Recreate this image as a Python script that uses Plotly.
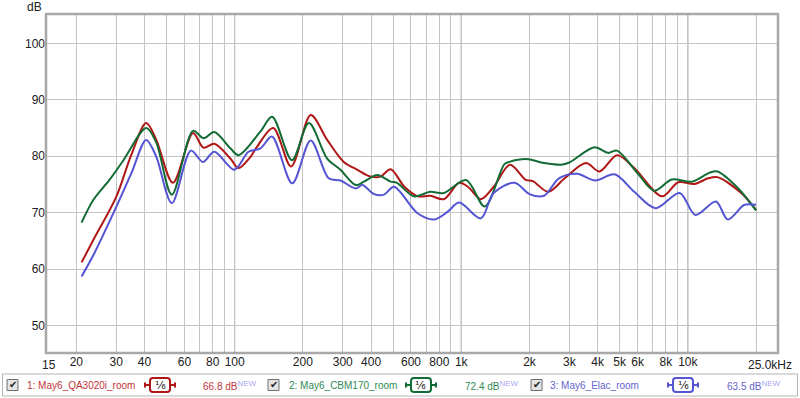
import plotly.graph_objects as go

# ---------------- data ----------------
red_f = [21.1, 23.8, 30, 35, 40.7, 45, 53.4, 65.5, 72.9, 81.3, 95.7, 104, 117, 125.6, 147.9, 177.5,
         216.5, 256, 303, 348, 398, 440, 488, 561, 644, 730, 838, 979, 1070, 1220, 1390, 1640, 1930,
         2070, 2420, 2860, 3550, 4080, 4870, 5800, 7700, 9070, 10700, 12300, 13500, 17200, 20000]
red_db = [61.2, 65.2, 72.8, 80.3, 85.9, 83.0, 75.3, 84.1, 81.5, 82.2, 79.6, 77.9, 79.8, 81.7, 85.0, 78.2,
          87.3, 82.9, 79.0, 77.6, 76.4, 76.4, 77.7, 74.6, 72.9, 73.0, 72.4, 75.3, 74.6, 72.4, 74.6, 78.5, 75.8,
          75.6, 73.7, 76.1, 78.8, 77.3, 80.2, 77.9, 72.9, 75.4, 75.1, 76.1, 76.3, 73.5, 70.5]

green_f = [21.1, 23.8, 28, 32.3, 40.7, 45, 52.8, 65.5, 72.9, 81.3, 95.7, 104, 130, 146.3, 179, 212.5,
           256, 293, 342, 372, 426, 488, 520, 618, 730, 838, 1050, 1270, 1550, 1630, 1930, 2320, 2760,
           3000, 3870, 4450, 4870, 6000, 7100, 8500, 10400, 12500, 13500, 16700, 20000]
green_db = [68.25, 72.3, 75.8, 79.3, 85.0, 82.5, 73.2, 84.5, 83.2, 84.3, 81.4, 80.2, 84.4, 87.0, 79.3, 85.9,
            79.6, 77.6, 74.9, 75.5, 76.7, 75.5, 75.3, 72.9, 73.7, 73.5, 75.8, 71.1, 78.6, 79.0, 79.5, 78.8, 78.5,
            78.9, 81.6, 80.6, 81.0, 77.0, 73.9, 75.9, 75.5, 77.1, 77.3, 74.3, 70.4]

blue_f = [21.1, 23.8, 29.6, 35, 40.7, 45, 52.8, 64.1, 72.4, 81.3, 99.7, 115, 130, 146, 179.5, 216.5,
          260, 293, 342, 366, 412, 456, 505, 641, 760, 872, 979, 1220, 1390, 1720, 2000, 2320, 2700,
          3250, 3900, 4750, 5800, 7200, 9200, 10800, 13300, 15000, 17800, 20000]
blue_db = [58.7, 62.5, 70.5, 77.0, 82.9, 80.0, 71.7, 81.0, 79.0, 80.8, 77.6, 80.8, 81.4, 83.5, 75.2, 82.8,
           76.1, 75.7, 74.3, 74.9, 73.3, 73.2, 74.6, 69.9, 68.8, 70.2, 71.8, 69.0, 73.5, 75.3, 73.3, 73.0, 76.1,
           76.9, 75.7, 76.8, 73.7, 70.8, 73.5, 69.6, 72.0, 68.8, 71.4, 71.4]

series_names = ["1: May6_QA3020i_room", "2: May6_CBM170_room", "3: May6_Elac_room"]
series_levels = ["66.8 dB", "72.4 dB", "63.5 dB"]

x_grid = [20, 30, 40, 50, 60, 70, 80, 90, 100, 200, 300, 400, 500, 600, 700, 800, 900,
          1000, 2000, 3000, 4000, 5000, 6000, 7000, 8000, 9000, 10000, 20000]
x_labels = {20: "20", 30: "30", 40: "40", 60: "60", 80: "80", 100: "100", 200: "200", 300: "300",
            400: "400", 600: "600", 800: "800", 1000: "1k", 2000: "2k", 3000: "3k", 4000: "4k",
            5000: "5k", 6000: "6k", 8000: "8k", 10000: "10k"}
y_ticks = [50, 60, 70, 80, 90, 100]
major_x = [100, 1000, 10000]

line_colors = ["#b01616", "#136b36", "#5454d4"]
text_colors = ["#c2343c", "#2f8a56", "#6464cc"]

# ---------------- layout geometry ----------------
W, H = 800, 398
L, R, T, B = 46, 778, 14, 353


def px(x):
    return (x - L) / (R - L)


def py(y):
    return (B - y) / (B - T)


fig = go.Figure()
for f, v, c, n in zip([red_f, green_f, blue_f], [red_db, green_db, blue_db], line_colors, series_names):
    fig.add_trace(go.Scatter(x=f, y=v, mode="lines", name=n,
                             line=dict(color=c, width=2, shape="spline", smoothing=0.9),
                             showlegend=False, hoverinfo="skip"))

shapes = []
for g in major_x:
    shapes.append(dict(type="line", xref="x", yref="paper", x0=g, x1=g, y0=0, y1=1,
                       line=dict(color="#8a8a8a", width=1), layer="below"))
# plot frame
shapes.append(dict(type="rect", xref="paper", yref="paper", x0=0, x1=1, y0=0, y1=1,
                   line=dict(color="#a8a8a8", width=2.5)))
# legend box
shapes.append(dict(type="rect", xref="paper", yref="paper", x0=px(2.5), x1=px(797.5),
                   y0=py(396), y1=py(374), line=dict(color="#b4b4b4", width=1)))

annotations = []
font = "Liberation Sans, Arial, sans-serif"
annotations.append(dict(x=px(34.5), y=py(6.5), xref="paper", yref="paper", text="dB", showarrow=False,
                        font=dict(family=font, size=12, color="#202020"), xanchor="center", yanchor="middle"))
annotations.append(dict(x=px(48.5), y=py(365), xref="paper", yref="paper", text="15", showarrow=False,
                        font=dict(family=font, size=12, color="#202020"), xanchor="center", yanchor="middle"))
annotations.append(dict(x=px(793.5), y=py(365), xref="paper", yref="paper", text="25.0kHz", showarrow=False,
                        font=dict(family=font, size=12, color="#202020"), xanchor="right", yanchor="middle"))

check_x = [7, 268, 531]
name_x = [25, 287, 548]
badge_x = [145, 406, 668]
level_x = [201, 463, 725]
cy = 385
for i in range(3):
    cx = check_x[i]
    shapes.append(dict(type="rect", xref="paper", yref="paper", x0=px(cx), x1=px(cx + 11),
                       y0=py(cy + 5.5), y1=py(cy - 5.5), fillcolor="#e4e4e4",
                       line=dict(color="#707070", width=1)))
    annotations.append(dict(x=px(cx + 5.5), y=py(cy - 0.5), xref="paper", yref="paper", text="✔",
                            showarrow=False, font=dict(family="DejaVu Sans", size=10, color="#202020"),
                            xanchor="center", yanchor="middle"))
    annotations.append(dict(x=px(name_x[i]), y=py(cy), xref="paper", yref="paper", text=series_names[i],
                            showarrow=False, font=dict(family=font, size=10, color=text_colors[i]),
                            xanchor="left", yanchor="middle"))
    bx = badge_x[i]
    col = line_colors[i]
    shapes.append(dict(type="line", xref="paper", yref="paper", x0=px(bx), x1=px(bx + 30),
                       y0=py(cy), y1=py(cy), line=dict(color=col, width=2)))
    for ex in (bx, bx + 30):
        shapes.append(dict(type="line", xref="paper", yref="paper", x0=px(ex), x1=px(ex),
                           y0=py(cy - 2.5), y1=py(cy + 2.5), line=dict(color=col, width=2)))
    x0, x1, y0, y1, r = bx + 5, bx + 25, cy - 7, cy + 7, 3
    path = (f"M {px(x0 + r)},{py(y0)} L {px(x1 - r)},{py(y0)} Q {px(x1)},{py(y0)} {px(x1)},{py(y0 + r)} "
            f"L {px(x1)},{py(y1 - r)} Q {px(x1)},{py(y1)} {px(x1 - r)},{py(y1)} "
            f"L {px(x0 + r)},{py(y1)} Q {px(x0)},{py(y1)} {px(x0)},{py(y1 - r)} "
            f"L {px(x0)},{py(y0 + r)} Q {px(x0)},{py(y0)} {px(x0 + r)},{py(y0)} Z")
    shapes.append(dict(type="path", xref="paper", yref="paper", path=path, fillcolor="white",
                       line=dict(color=col, width=2)))
    annotations.append(dict(x=px(bx + 15), y=py(cy), xref="paper", yref="paper",
                            text="¹⁄₆", showarrow=False,
                            font=dict(family="DejaVu Sans", size=11, color="#202020"),
                            xanchor="center", yanchor="middle"))
    annotations.append(dict(x=px(level_x[i]), y=py(cy), xref="paper", yref="paper",
                            text=series_levels[i] + "<sup><span style='color:#a8a8f0;font-size:8px'>NEW</span></sup>",
                            showarrow=False, font=dict(family=font, size=10, color=text_colors[i]),
                            xanchor="left", yanchor="middle"))

fig.update_layout(
    width=W, height=H, autosize=False,
    margin=dict(l=L, r=W - R, t=T, b=H - B, pad=0),
    paper_bgcolor="white", plot_bgcolor="white",
    shapes=shapes, annotations=annotations,
    xaxis=dict(type="log", range=[1.1673, 4.3979], tickvals=x_grid,
               ticktext=[x_labels.get(g, "") for g in x_grid], showgrid=True, gridcolor="#c4c4c4",
               gridwidth=1, zeroline=False, showline=False, ticks="",
               tickfont=dict(family=font, size=12, color="#202020")),
    yaxis=dict(range=[45.15, 105.2], tickvals=y_ticks, showgrid=True, gridcolor="#c4c4c4",
               gridwidth=1, zeroline=False, showline=False, ticks="",
               tickfont=dict(family=font, size=12, color="#202020")),
)

fig.write_html("out.html", config={"displayModeBar": False},
               post_script="document.body.style.margin='0';document.body.style.padding='0';")
